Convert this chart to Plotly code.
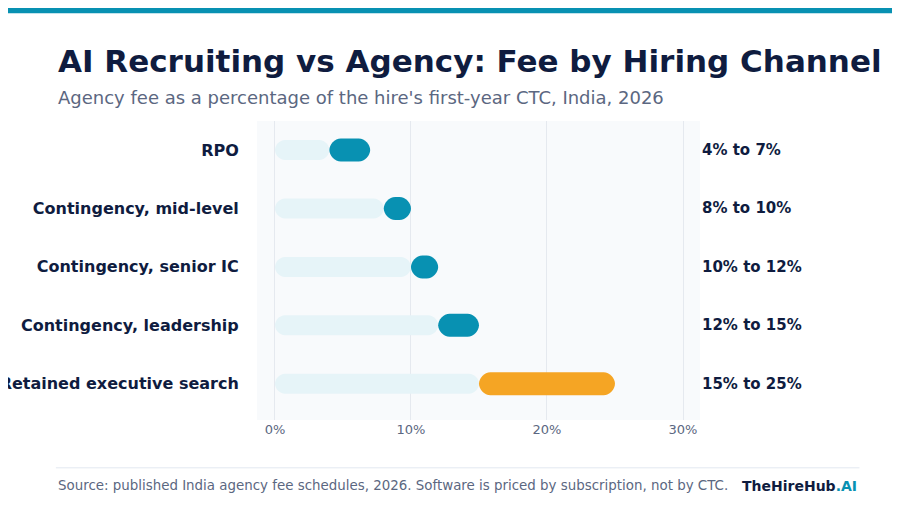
import plotly.graph_objects as go

categories = ["RPO", "Contingency, mid-level", "Contingency, senior IC", "Contingency, leadership", "Retained executive search"]
low = [4, 8, 10, 12, 15]
high = [7, 10, 12, 15, 25]
labels = ["4% to 7%", "8% to 10%", "10% to 12%", "12% to 15%", "15% to 25%"]
colors = ["#0891b2", "#0891b2", "#0891b2", "#0891b2", "#f5a524"]

XR = [-1.32, 31.25]
YR = [4.62, -0.496]
PX_X = 443 / (XR[1] - XR[0])
PX_Y = 299 / (YR[0] - YR[1])

def rrect(x0, x1, yc, hpx):
    h = hpx / 2 / PX_Y
    rx = min(hpx / 2 / PX_X, (x1 - x0) / 2)
    ry = h
    k = 0.5523
    y0, y1 = yc - h, yc + h
    return (f"M {x0+rx},{y0} L {x1-rx},{y0} "
            f"C {x1-rx+k*rx},{y0} {x1},{yc-ry+k*ry} {x1},{yc} "
            f"C {x1},{yc+ry-k*ry} {x1-rx+k*rx},{y1} {x1-rx},{y1} "
            f"L {x0+rx},{y1} "
            f"C {x0+rx-k*rx},{y1} {x0},{yc+ry-k*ry} {x0},{yc} "
            f"C {x0},{yc-ry+k*ry} {x0+rx-k*rx},{y0} {x0+rx},{y0} Z")

fig = go.Figure()
fig.add_trace(go.Scatter(x=low + high, y=list(range(5)) * 2, mode="markers",
                         marker=dict(opacity=0), hoverinfo="skip", showlegend=False))
shapes = []
for i in range(5):
    shapes.append(dict(type="path", path=rrect(0, low[i], i, 20), fillcolor="#e6f4f8",
                       line=dict(width=0), layer="above"))
    shapes.append(dict(type="path", path=rrect(low[i], high[i], i, 23), fillcolor=colors[i],
                       line=dict(width=0), layer="above"))
shapes.append(dict(type="rect", xref="paper", yref="paper", x0=-0.6, x1=1.5, y0=1.36, y1=1.402,
                   fillcolor="#0891b2", line=dict(width=0)))
shapes.append(dict(type="line", xref="paper", yref="paper", x0=-0.454, x1=1.36, y0=-0.16, y1=-0.16,
                   line=dict(color="#e2e8f0", width=1)))

ann = []
for i in range(5):
    ann.append(dict(x=1.0, xref="paper", xanchor="left", xshift=0, y=i, yref="y", text=f"<b>{labels[i]}</b>",
                    showarrow=False, font=dict(size=15, color="#0f1c3f")))
fig.update_layout(
    width=900, height=516, margin=dict(l=249, r=208, t=113, b=104, autoexpand=False),
    paper_bgcolor="white", plot_bgcolor="#f8fafc", font=dict(family="DejaVu Sans"),
    shapes=shapes,
    xaxis=dict(range=XR, tickvals=[0, 10, 20, 30], ticktext=["0%", "10%", "20%", "30%"],
               showgrid=True, gridcolor="#e5e9ef", zeroline=False, fixedrange=True, automargin=False,
               tickfont=dict(size=13, color="#5b6781"), ticks="", ticklen=0),
    yaxis=dict(range=YR, tickvals=list(range(5)), ticktext=[f"<b>{c}</b>" for c in categories],
               showgrid=False, zeroline=False, tickfont=dict(size=16, color="#0f1c3f"), automargin=False,
               ticks="outside", ticklen=14, tickcolor="rgba(0,0,0,0)"),
    annotations=ann + [
        dict(xref="paper", yref="paper", x=-0.454, y=1.2, xanchor="left", yanchor="middle",
             text="<b>AI Recruiting vs Agency: Fee by Hiring Channel</b>", showarrow=False,
             font=dict(size=31, color="#0f1c3f")),
        dict(xref="paper", yref="paper", x=-0.454, y=1.078, xanchor="left", yanchor="middle",
             text="Agency fee as a percentage of the hire's first-year CTC, India, 2026", showarrow=False,
             font=dict(size=18, color="#5b6781")),
        dict(xref="paper", yref="paper", x=-0.454, y=-0.22, xanchor="left", yanchor="middle",
             text="Source: published India agency fee schedules, 2026. Software is priced by subscription, not by CTC.",
             showarrow=False, font=dict(size=13.4, color="#5b6781")),
        dict(xref="paper", yref="paper", x=1.36, y=-0.22, xanchor="right", yanchor="middle",
             text="<b>TheHireHub<span style='color:#0891b2'>.AI</span></b>",
             showarrow=False, font=dict(size=14, color="#0f1c3f")),
    ],
)
fig.write_html("out.html")
